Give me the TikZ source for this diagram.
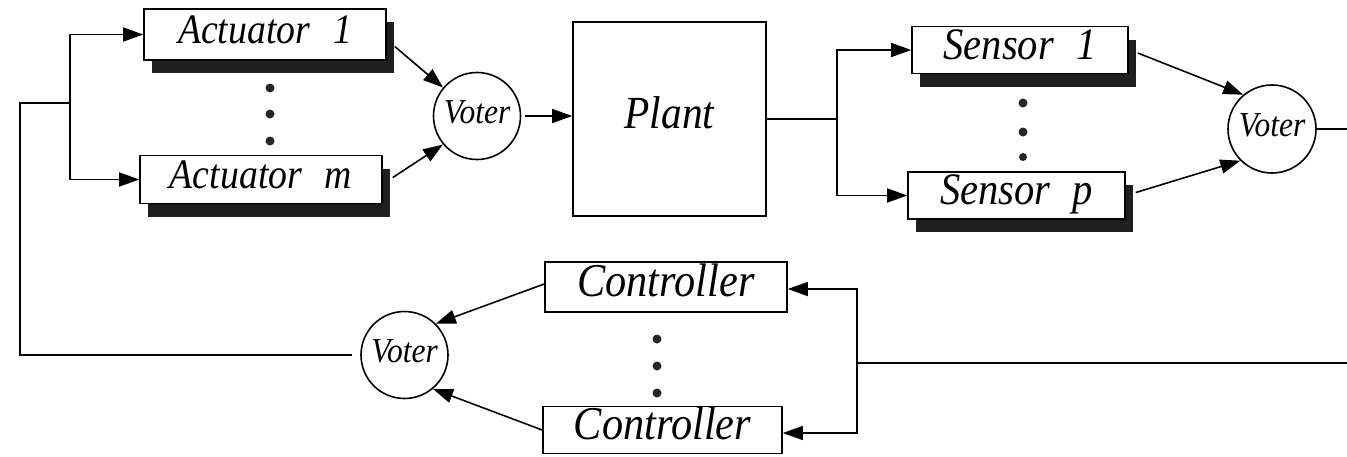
\documentclass[tikz,border=0pt]{standalone}
\usepackage{fontspec}
\usepackage{graphicx}
\setmainfont{LiberationSerif}[Extension=.ttf, UprightFont=*-Regular, ItalicFont=*-Italic, BoldFont=*-Bold, BoldItalicFont=*-BoldItalic]
\newcommand\narrowlabel[1]{\scalebox{0.9}[1]{\itshape #1}}
\usetikzlibrary{arrows.meta,calc,shadows}

\begin{document}
\begin{tikzpicture}[x=1pt,y=-1pt,
  line width=1.6pt,
  arr/.style={-{Triangle[length=20pt,width=14pt]}},
  unit/.style={draw, fill=white, rectangle, inner sep=0pt},
  shadowbox/.style={drop shadow={shadow xshift=8pt,shadow yshift=-13pt,opacity=1,fill=black!88}},
  actfont/.style={font=\fontsize{42}{48}\selectfont, text height=25pt, text depth=8pt},
  senfont/.style={font=\fontsize{45}{52}\selectfont, text height=27pt, text depth=9pt},
  ctlfont/.style={font=\fontsize{47}{54}\selectfont, text height=28pt, text depth=9pt},
  voter/.style={draw, fill=white, circle, inner sep=0pt, minimum size=87pt,
    font=\fontsize{35}{40}\selectfont, text height=21pt, text depth=7pt},
  vdot/.style={fill=black!85}
]
\useasboundingbox (0,0) rectangle (1347,456);

% actuator bank
\node[unit, shadowbox, actfont, minimum width=242pt, minimum height=51pt] (act1) at (265,34.5) {\narrowlabel{Actuator\hspace{0.6em}1}};
\node[unit, shadowbox, actfont, minimum width=242pt, minimum height=48pt] (actm) at (261,179.5) {\narrowlabel{Actuator\hspace{0.6em}m}};
\fill[vdot] (270,88) circle (4.5) (270,114) circle (4.5) (270,141) circle (4.5);

% voters
\node[voter] (v1) at (477,116) {\narrowlabel{Voter}};
\node[voter, minimum size=88pt] (v2) at (1272,129) {\narrowlabel{Voter}};
\node[voter] (v3) at (404.5,355) {\narrowlabel{Voter}};

% plant
\node[unit, minimum width=193pt, minimum height=194pt,
  font=\fontsize{46}{52}\selectfont, text height=28pt, text depth=9pt] (plant) at (669.5,119) {\narrowlabel{Plant}};

% sensor bank
\node[unit, shadowbox, senfont, minimum width=216pt, minimum height=47pt] (sen1) at (1020,50) {\narrowlabel{Sensor\hspace{0.55em}1}};
\node[unit, shadowbox, senfont, minimum width=217pt, minimum height=47pt] (senp) at (1016.5,195.5) {\narrowlabel{Sensor\hspace{0.55em}p}};
\fill[vdot] (1023,103) circle (4.5) (1023,132) circle (4.5) (1023,157) circle (4);

% controller bank
\node[unit, ctlfont, minimum width=242pt, minimum height=50pt] (ctl1) at (666,287) {\narrowlabel{Controller}};
\node[unit, ctlfont, minimum width=239pt, minimum height=47pt] (ctl2) at (662.5,430) {\narrowlabel{Controller}};
\fill[vdot] (657,339) circle (4.5) (657,366) circle (4.5) (657,393) circle (4.5);

% junction and edge coordinates
\coordinate (ja) at (70,103);
\coordinate (fbL) at (20,103);
\coordinate (js) at (837,119);
\coordinate (outR) at (1347,129);
\coordinate (inR) at (1347,363);
\coordinate (jr) at (857,363);

% feedback into the actuators
\draw[shorten <=8pt] (v3.west) -| (fbL) -- (ja);
\draw[arr] (ja) |- (act1.west);
\draw[arr] (ja) |- (actm.west);

% actuators to voter to plant
\draw[arr] ([xshift=8pt,yshift=-12pt]act1.east) -- (v1.140);
\draw[arr] ([xshift=10pt,yshift=2pt]actm.east) -- (v1.220);
\draw[arr, shorten <=4pt] (v1.east) -- (v1.east -| plant.west);

% plant to sensors to voter
\draw (plant.east) -- (js);
\draw[arr] (js) |- (sen1.west);
\draw[arr] (js) |- (senp.west);
\draw[arr] ([xshift=9pt,yshift=-3pt]sen1.east) -- (v2.130);
\draw[arr] ([xshift=10pt,yshift=3pt]senp.east) -- (v2.225);
\draw (v2.east) -- (outR);

% return path into the controllers
\draw (inR) -- (jr);
\draw[arr] (jr) |- ([yshift=-2pt]ctl1.east);
\draw[arr] (jr) |- ([yshift=-3pt]ctl2.east);
\draw[arr] ([yshift=3pt]ctl1.west) -- (v3.45);
\draw[arr] (ctl2.west) -- (v3.310);
\end{tikzpicture}
\end{document}
